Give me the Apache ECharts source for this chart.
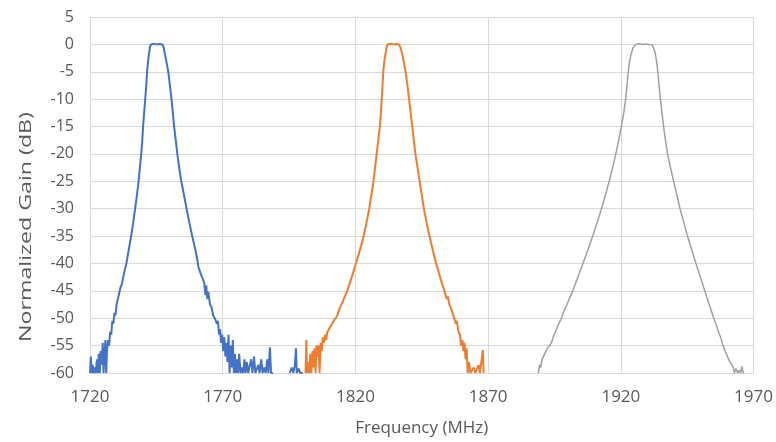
<!DOCTYPE html>
<html>
<head>
<meta charset="utf-8">
<script src="https://cdn.jsdelivr.net/npm/echarts@6/dist/echarts.min.js"></script>
<style>
  html, body { margin: 0; padding: 0; background: #fff; }
  #chart { width: 776px; height: 442px; }
</style>
</head>
<body>
<div id="chart"></div>
<script>
// values, [frequency MHz, gain dB]
const band1 = [
  [1720.0, -60], [1720.3, -57], [1720.6, -60], [1721.0, -58.5], [1721.3, -60], [1721.8, -59], [1722.2, -60],
  [1722.6, -57.5], [1723.0, -60], [1723.3, -56.5], [1723.7, -60], [1724.0, -56], [1724.4, -58.5], [1724.8, -54.5],
  [1725.1, -60], [1725.4, -57], [1725.8, -54], [1726.1, -60], [1726.4, -56], [1726.8, -54], [1727.2, -55],
  [1727.6, -52.5], [1728.0, -53], [1728.4, -50.5], [1728.8, -51], [1729.2, -49], [1729.6, -49.5], [1730.0, -47.5],
  [1730.5, -47.2], [1731.2, -45], [1731.6, -44.2], [1732.0, -43.8], [1732.6, -42.3], [1733.1, -41.2], [1733.7, -40],
  [1734.6, -37.5], [1735.5, -35], [1736.3, -32.5], [1737.0, -30], [1737.7, -27.5], [1738.3, -25], [1738.8, -22.5],
  [1739.3, -20], [1739.7, -17.5], [1740.0, -15], [1740.4, -12.5], [1740.8, -10], [1741.2, -7.5], [1741.5, -5],
  [1741.9, -3], [1742.3, -1.5], [1742.6, -0.4], [1743.0, 0], [1744.0, 0.1], [1745.0, 0], [1746.2, 0.05],
  [1747.3, 0], [1747.7, -0.5], [1748.2, -1.7], [1748.8, -3.2], [1749.5, -5], [1750.1, -7.5], [1750.7, -10],
  [1751.2, -12.5], [1751.7, -15], [1752.3, -17.5], [1752.9, -20], [1753.6, -22.5], [1754.4, -25], [1755.4, -27.5],
  [1756.4, -30], [1757.4, -32.5], [1758.5, -35], [1759.7, -37.5], [1760.5, -39.5], [1760.9, -40.8], [1761.4, -41],
  [1762.2, -42.5], [1763.0, -43.5], [1763.5, -45.8], [1763.8, -44], [1764.2, -46.5], [1764.6, -45.2], [1765.2, -47.5],
  [1765.8, -48], [1766.4, -49.5], [1767.0, -50], [1767.8, -51], [1768.2, -50.5], [1768.6, -53], [1769.0, -52],
  [1769.4, -54.5], [1769.8, -53], [1770.2, -56], [1770.6, -53.5], [1771.0, -57], [1771.4, -54.5], [1771.8, -58],
  [1772.2, -53], [1772.6, -60], [1773.0, -55], [1773.4, -59], [1773.8, -54], [1774.2, -60], [1774.6, -56.5],
  [1775.0, -60], [1775.4, -57.5], [1775.8, -60], [1776.2, -56.5], [1776.7, -60], [1777.2, -59], [1777.7, -60],
  [1778.2, -57.5], [1778.6, -60], [1779.1, -58], [1779.6, -60], [1780.2, -60], [1780.7, -57.5], [1781.2, -60],
  [1781.8, -57], [1782.3, -60], [1782.8, -60], [1783.4, -58.5], [1783.9, -60], [1784.5, -57.5], [1785.0, -60],
  [1785.6, -59], [1786.2, -60], [1786.8, -57.5], [1787.2, -60], [1787.8, -55.3], [1788.2, -60], [1788.9, -60],
  null,
  [1795.3, -60], [1796.0, -59], [1796.6, -60], [1797.2, -58.5], [1797.6, -55.5], [1797.9, -60], [1798.6, -59.2],
  [1799.2, -60], [1800.1, -60]
];

const band2 = [
  [1801.2, -60], [1801.5, -54], [1801.8, -60], [1802.2, -58], [1802.6, -60], [1803.0, -56.5], [1803.4, -60],
  [1803.8, -56], [1804.2, -59], [1804.6, -55.5], [1805.0, -60], [1805.3, -55], [1805.7, -57], [1806.1, -55],
  [1806.5, -60], [1806.9, -54.5], [1807.3, -56], [1807.7, -53.5], [1808.1, -54.5], [1808.6, -53], [1809.0, -54],
  [1809.4, -52.5], [1810.0, -52.8], [1810.6, -51.5], [1811.2, -51.8], [1811.8, -50.5], [1812.4, -50.8], [1813.2, -49.5],
  [1814.0, -48.2], [1814.6, -48.5], [1815.2, -47], [1816.0, -46], [1816.9, -45], [1818.6, -42.5], [1820.2, -40],
  [1821.7, -37.5], [1823.1, -35], [1824.2, -32.5], [1825.2, -30], [1826.0, -27.5], [1826.8, -25], [1827.4, -22.5],
  [1828.0, -20], [1828.6, -17.5], [1829.2, -15], [1829.6, -12.5], [1829.9, -10], [1830.2, -7.5], [1830.5, -5],
  [1830.9, -3], [1831.4, -1.5], [1831.8, -0.4], [1832.1, 0], [1833.2, 0.1], [1834.3, 0], [1835.4, 0.05],
  [1836.4, 0], [1836.9, -0.5], [1837.6, -1.7], [1838.2, -3.2], [1838.9, -5], [1839.6, -7.5], [1840.2, -10],
  [1840.8, -12.5], [1841.4, -15], [1842.0, -17.5], [1842.6, -20], [1843.4, -22.5], [1844.2, -25], [1845.0, -27.5],
  [1845.8, -30], [1846.8, -32.5], [1847.9, -35], [1849.1, -37.5], [1850.4, -40], [1851.9, -42.5], [1853.5, -45],
  [1854.4, -46.5], [1854.8, -46], [1855.4, -47.5], [1856.0, -48.2], [1856.5, -48], [1857.2, -50], [1857.8, -51],
  [1858.2, -50.5], [1858.8, -52.5], [1859.4, -53], [1859.8, -55], [1860.3, -54], [1860.7, -56], [1861.1, -54.5],
  [1861.5, -57.5], [1861.9, -55.5], [1862.3, -60], [1862.8, -58], [1863.3, -60], [1864.0, -60], [1864.6, -59],
  [1865.2, -60], [1865.8, -60], [1866.4, -58.5], [1866.9, -60], [1867.5, -60], [1868.0, -55.8], [1868.3, -60]
];

const band3 = [
  [1888.9, -60], [1889.4, -58.5], [1889.8, -59], [1890.3, -57.5], [1890.8, -57.8], [1891.3, -56.5], [1891.9, -56.2],
  [1892.5, -55.3], [1893.3, -55], [1894.2, -54], [1894.6, -53.3], [1895.0, -53.5], [1895.8, -52], [1896.6, -51],
  [1897.6, -50], [1898.6, -48.7], [1899.7, -47.5], [1900.8, -46.2], [1901.9, -45], [1903.8, -42.5], [1905.7, -40],
  [1907.6, -37.5], [1909.4, -35], [1911.1, -32.5], [1912.7, -30], [1914.2, -27.5], [1915.6, -25], [1916.9, -22.5],
  [1918.1, -20], [1919.2, -17.5], [1920.2, -15], [1921.1, -12.5], [1921.8, -10], [1922.3, -7.5], [1922.8, -5],
  [1923.3, -3], [1923.9, -1.7], [1924.6, -0.6], [1925.6, 0], [1926.8, 0.1], [1928.2, 0], [1929.6, 0.05],
  [1930.8, 0], [1931.7, -0.1], [1932.4, -0.7], [1933.0, -1.7], [1933.5, -3.2], [1933.9, -5], [1934.4, -7.5],
  [1934.9, -10], [1935.5, -12.5], [1936.1, -15], [1936.8, -17.5], [1937.6, -20], [1938.7, -22.5], [1939.9, -25],
  [1941.1, -27.5], [1942.3, -30], [1943.7, -32.5], [1945.1, -35], [1946.7, -37.5], [1948.3, -40], [1950.0, -42.5],
  [1951.6, -45], [1953.3, -47.5], [1955.0, -50], [1955.8, -51], [1956.3, -51.3], [1956.8, -52.5], [1957.6, -53.5],
  [1958.5, -55], [1959.3, -56], [1960.0, -56.8], [1960.6, -57.5], [1961.2, -57.3], [1961.8, -58.5], [1962.4, -59],
  [1962.8, -60], [1963.4, -59.2], [1964.0, -60], [1964.6, -59.5], [1965.1, -60], [1965.6, -58.8], [1966.1, -60],
  [1966.5, -60]
];

const xRange = [1720, 1970];
const yRange = [-60, 5];
const xTitle = 'Frequency (MHz)';
const yTitle = 'Normalized Gain (dB)';

const textColor = '#595959';
const gridColor = '#d9d9d9';
const font = '"Open Sans", sans-serif';

const lineSeries = (data, color, width) => ({
  type: 'line',
  data: data,
  showSymbol: false,
  connectNulls: false,
  clip: true,
  animation: false,
  lineStyle: { color: color, width: width },
  itemStyle: { color: color }
});

const chart = echarts.init(document.getElementById('chart'), null, { renderer: 'canvas' });
chart.setOption({
  backgroundColor: '#fff',
  animation: false,
  grid: { left: 90, right: 15, top: 17, bottom: 69 },
  // the y title in the reference is drawn stretched along its length
  graphic: [{
    type: 'text',
    x: 26,
    y: 227,
    rotation: Math.PI / 2,
    scaleX: 1.45,
    style: {
      text: yTitle,
      fill: textColor,
      fontSize: 16,
      fontFamily: font,
      align: 'center',
      verticalAlign: 'middle'
    }
  }],
  xAxis: {
    type: 'value',
    min: xRange[0],
    max: xRange[1],
    interval: 50,
    name: xTitle,
    nameLocation: 'middle',
    nameGap: 47,
    nameTextStyle: { color: textColor, fontSize: 17, fontFamily: font },
    axisLine: { show: false },
    axisTick: { show: false },
    axisLabel: { color: textColor, fontSize: 17, fontFamily: font, margin: 16, formatter: v => String(v) },
    splitLine: { show: true, lineStyle: { color: gridColor, width: 1 } }
  },
  yAxis: {
    type: 'value',
    min: yRange[0],
    max: yRange[1],
    interval: 5,
    axisLine: { show: false },
    axisTick: { show: false },
    axisLabel: { color: textColor, fontSize: 16, fontFamily: font, margin: 16 },
    splitLine: { show: true, lineStyle: { color: gridColor, width: 1 } }
  },
  series: [
    lineSeries(band1, '#4472c4', 2),
    lineSeries(band2, '#ed7d31', 2),
    lineSeries(band3, '#a0a0a0', 1.5)
  ]
});
</script>
</body>
</html>
